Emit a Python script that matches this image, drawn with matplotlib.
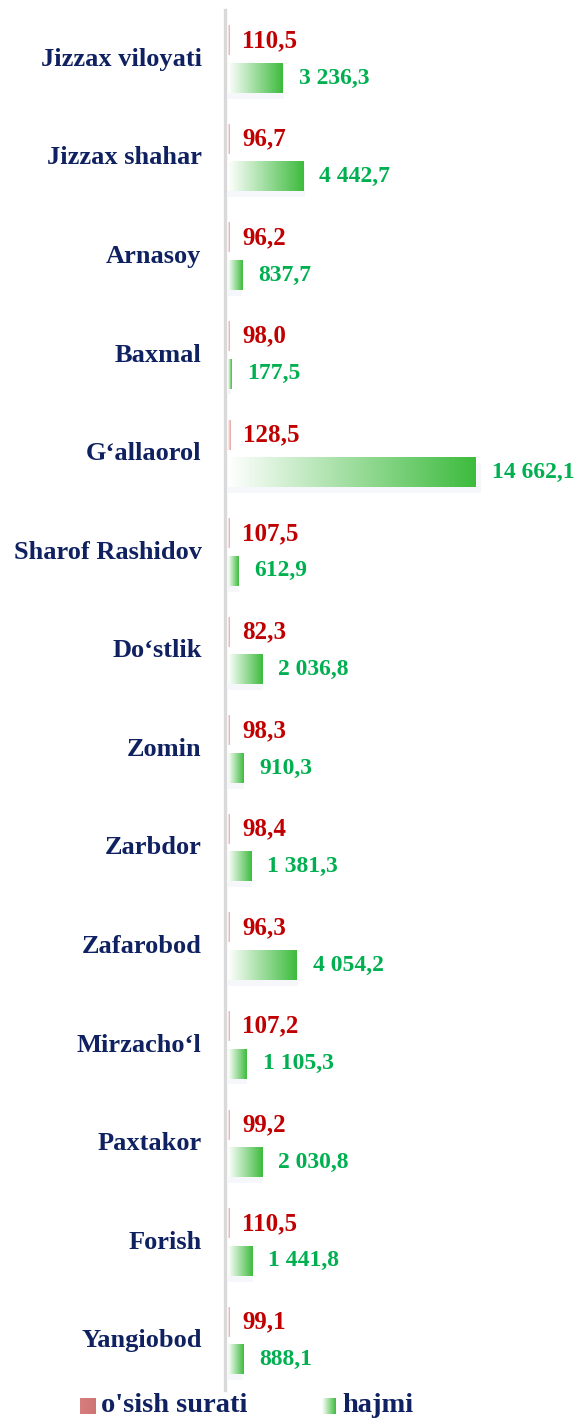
import numpy as np
import matplotlib
matplotlib.use("Agg")
import matplotlib.pyplot as plt
from matplotlib.colors import LinearSegmentedColormap
from matplotlib.patches import Rectangle

# Data
categories = ["Jizzax viloyati", "Jizzax shahar", "Arnasoy", "Baxmal", "G‘allaorol",
              "Sharof Rashidov", "Do‘stlik", "Zomin", "Zarbdor", "Zafarobod",
              "Mirzacho‘l", "Paxtakor", "Forish", "Yangiobod"]
growth = [110.5, 96.7, 96.2, 98.0, 128.5, 107.5, 82.3, 98.3, 98.4, 96.3, 107.2, 99.2, 110.5, 99.1]
volume = [3236.3, 4442.7, 837.7, 177.5, 14662.1, 612.9, 2036.8, 910.3, 1381.3, 4054.2,
          1105.3, 2030.8, 1441.8, 888.1]
legend_labels = ["o'sish surati", "hajmi"]


def fmt(v):
    s = f"{v:,.1f}"
    return s.replace(",", " ").replace(".", ",")


plt.rcParams['font.family'] = ['Liberation Serif', 'DejaVu Serif']
plt.rcParams['font.weight'] = 'bold'

navy = "#0f2160"
red_txt = "#c00000"
green_txt = "#00b050"
green_cmap = LinearSegmentedColormap.from_list("g", ["#ffffff", "#3dbb3d"])
pink_cmap = LinearSegmentedColormap.from_list("p", ["#fff4f4", "#e3a0a0"])

W, H = 581, 1421
fig = plt.figure(figsize=(W / 100, H / 100), dpi=100)
ax = fig.add_axes([228 / W, 31 / H, (W - 228) / W, 1380 / H])

grad = np.linspace(0, 1, 256).reshape(1, -1)
bh = 0.30
off = 0.19

for i, (g, v) in enumerate(zip(growth, volume)):
    yr = i - off
    yg = i + off
    # soft shadow under the green bar
    ax.add_patch(Rectangle((0, yg - bh / 2 + 0.06), v * 1.02, bh, color="#eef1f8",
                           alpha=0.5, zorder=1, lw=0))
    ax.imshow(grad, extent=[0, g, yr + bh / 2, yr - bh / 2], cmap=pink_cmap,
              aspect='auto', zorder=2, interpolation='bilinear')
    ax.imshow(grad, extent=[0, v, yg + bh / 2, yg - bh / 2], cmap=green_cmap,
              aspect='auto', zorder=2, interpolation='bilinear')
    ax.annotate(fmt(g), xy=(g, yr), xytext=(9, 0), textcoords='offset points',
                ha='left', va='center', color=red_txt, fontsize=18, fontweight='bold')
    ax.annotate(fmt(v), xy=(v, yg), xytext=(11.5, 0), textcoords='offset points',
                ha='left', va='center', color=green_txt, fontsize=17, fontweight='bold')
    ax.annotate(categories[i], xy=(0, i), xytext=(-19, 0), textcoords='offset points',
                ha='right', va='center', color=navy, fontsize=19, fontweight='bold',
                annotation_clip=False)

ax.set_xlim(0, max(volume) * 353 / 248)
ax.set_ylim(13.5, -0.5)
ax.set_xticks([])
ax.set_yticks([])
for s in ["top", "right", "bottom"]:
    ax.spines[s].set_visible(False)
ax.spines["left"].set_color("#d9d9d9")
ax.spines["left"].set_linewidth(2.4)
ax.spines["left"].set_position(("outward", 2))

# Legend drawn by hand
lax1 = fig.add_axes([80 / W, 1 - 1414 / H, 16 / W, 16 / H])
lax1.imshow(grad, cmap=LinearSegmentedColormap.from_list("lp", ["#d67e7e", "#cf7474"]), aspect='auto')
lax1.axis('off')
lax2 = fig.add_axes([322 / W, 1 - 1414 / H, 14 / W, 16 / H])
lax2.imshow(grad, cmap=green_cmap, aspect='auto')
lax2.axis('off')
fig.text(101 / W, 1 - 1405 / H, legend_labels[0], ha='left', va='center',
         color=navy, fontsize=20.5, fontweight='bold', family=['Liberation Serif'])
fig.text(342 / W, 1 - 1405 / H, legend_labels[1], ha='left', va='center',
         color=navy, fontsize=20.5, fontweight='bold', family=['Liberation Serif'])

fig.savefig("out.png", dpi=100)
